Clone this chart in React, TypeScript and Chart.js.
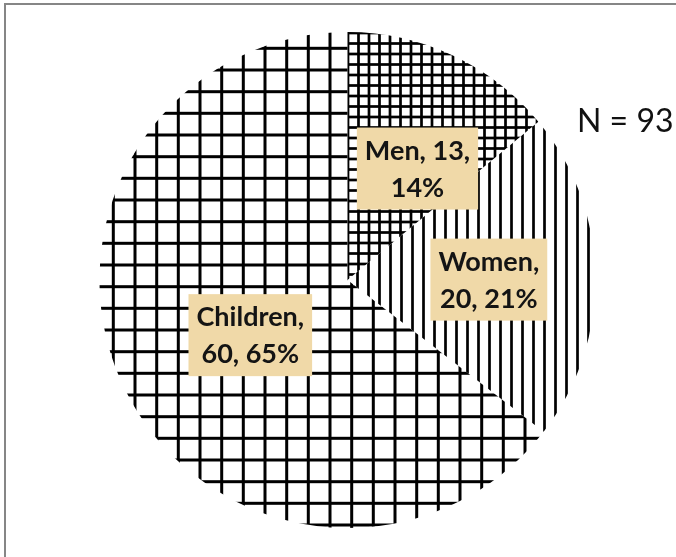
import React, { useEffect, useRef } from "react";
import { Chart, registerables } from "chart.js";

Chart.register(...registerables);

// ---- data ----
const categories = ["Men", "Women", "Children"];
const counts = [13, 20, 60];
const percentLabels = ["14%", "21%", "65%"];
const totalLabel = "N = 93";

// ---- styling ----
const W = 676;
const H = 557;
const labelRadius = [0.55, 0.57, 0.45];
const labelNudge = [
  [12, 12],
  [0, 2],
  [3, 6],
];
const LABEL_FONT = "bold 27px Lato, 'Open Sans', sans-serif";
const LABEL_WRAP = 122;

function gridPattern(ctx: CanvasRenderingContext2D, tile: number, pos: number[], lw: number) {
  const c = document.createElement("canvas");
  c.width = tile;
  c.height = tile;
  const g = c.getContext("2d")!;
  g.fillStyle = "#000";
  pos.forEach((p) => {
    g.fillRect(p - lw / 2, 0, lw, tile);
    g.fillRect(0, p - lw / 2, tile, lw);
  });
  return ctx.createPattern(c, "repeat")!;
}

function verticalPattern(ctx: CanvasRenderingContext2D, tile: number, pos: number, lw: number) {
  const c = document.createElement("canvas");
  c.width = tile;
  c.height = tile;
  const g = c.getContext("2d")!;
  g.fillStyle = "#000";
  g.fillRect(pos - lw / 2, 0, lw, tile);
  return ctx.createPattern(c, "repeat")!;
}

function wrap(ctx: CanvasRenderingContext2D, text: string, maxW: number) {
  const words = text.split(" ");
  const lines: string[] = [];
  let cur = "";
  words.forEach((w) => {
    const test = cur ? cur + " " + w : w;
    if (cur && ctx.measureText(test).width > maxW) {
      lines.push(cur);
      cur = w;
    } else cur = test;
  });
  if (cur) lines.push(cur);
  return lines;
}

const framePlugin = {
  id: "frame",
  beforeDraw(chart: any) {
    const ctx = chart.ctx;
    ctx.save();
    ctx.fillStyle = "#ffffff";
    ctx.fillRect(0, 0, W, H);
    ctx.fillStyle = "#868686";
    ctx.fillRect(4, 3, W - 4, 2);
    ctx.fillRect(4, 3, 2, H - 3);
    ctx.restore();
  },
};

const labelPlugin = {
  id: "sliceLabels",
  afterDatasetsDraw(chart: any) {
    const ctx: CanvasRenderingContext2D = chart.ctx;
    const meta = chart.getDatasetMeta(0);
    ctx.save();
    ctx.font = LABEL_FONT;
    meta.data.forEach((arc: any, i: number) => {
      const p = arc.getProps(["x", "y", "startAngle", "endAngle", "outerRadius"], true);
      const mid = (p.startAngle + p.endAngle) / 2;
      const r = p.outerRadius * labelRadius[i];
      const cx = p.x + Math.cos(mid) * r + labelNudge[i][0];
      const cy = p.y + Math.sin(mid) * r + labelNudge[i][1];
      const text = `${categories[i]}, ${counts[i]}, ${percentLabels[i]}`;
      const lines = wrap(ctx, text, LABEL_WRAP);
      const lineH = 37;
      const maxW = Math.max(...lines.map((l) => ctx.measureText(l).width));
      const bw = maxW + 16;
      const bh = lines.length * lineH + 8;
      ctx.fillStyle = "#F0D9A8";
      ctx.fillRect(cx - bw / 2, cy - bh / 2, bw, bh);
      ctx.fillStyle = "#141414";
      ctx.textAlign = "center";
      ctx.textBaseline = "middle";
      lines.forEach((l, k) => {
        ctx.fillText(l, cx, cy - ((lines.length - 1) * lineH) / 2 + k * lineH + 1);
      });
    });
    // N annotation
    ctx.font = "32px Lato, 'Open Sans', sans-serif";
    ctx.fillStyle = "#111";
    ctx.textAlign = "left";
    ctx.textBaseline = "middle";
    ctx.fillText(totalLabel, chart.chartArea.right - 19, 122);
    ctx.restore();
  },
};

export default function App() {
  const ref = useRef<HTMLCanvasElement>(null);
  useEffect(() => {
    const canvas = ref.current!;
    const ctx = canvas.getContext("2d")!;
    const menPat = gridPattern(ctx, 21, [1.5, 12], 2.7);
    const womenPat = verticalPattern(ctx, 11, 5.5, 2.7);
    const childPat = gridPattern(ctx, 65, [5, 26.7, 48.3], 3);
    const chart = new Chart(canvas, {
      type: "pie",
      data: {
        labels: categories,
        datasets: [
          {
            data: counts,
            backgroundColor: [menPat, womenPat, childPat] as any,
            borderWidth: 0,
            hoverOffset: 0,
          },
        ],
      },
      options: {
        responsive: false,
        animation: false,
        devicePixelRatio: 1,
        events: [],
        layout: { padding: { left: 99, right: 80, top: 32, bottom: 29 } },
        plugins: {
          legend: { display: false },
          tooltip: { enabled: false },
        },
      },
      plugins: [framePlugin, labelPlugin],
    });
    return () => chart.destroy();
  }, []);
  return (
    <div style={{ position: "absolute", left: 0, top: 0, width: W, height: H }}>
      <canvas ref={ref} width={W} height={H} style={{ display: "block" }} />
    </div>
  );
}
